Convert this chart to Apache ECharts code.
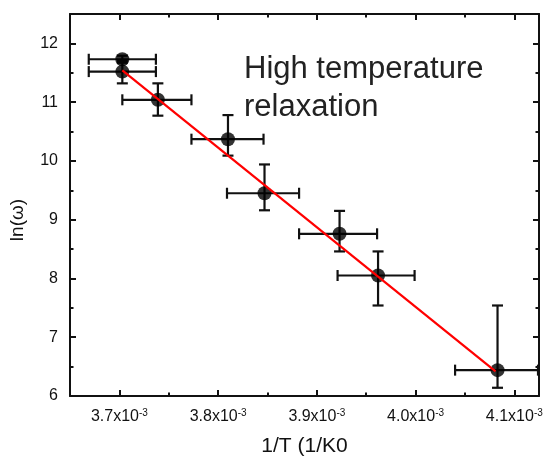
<!DOCTYPE html>
<html><head><meta charset="utf-8">
<script src="https://cdn.jsdelivr.net/npm/echarts@6/dist/echarts.min.js"></script>
<style>html,body{margin:0;padding:0;background:#fff}#c{width:544px;height:456px}</style>
</head><body><div id="c"></div>
<script>
// Data (x in units of 10^-3 1/K)
const X   = [3.703, 3.703, 3.739, 3.810, 3.847, 3.923, 3.962, 4.083];
const Y   = [11.73, 11.52, 11.04, 10.37, 9.45, 8.76, 8.05, 6.44];
const XLO = [3.669, 3.669, 3.703, 3.773, 3.809, 3.882, 3.921, 4.040];
const XHI = [3.737, 3.737, 3.773, 3.846, 3.882, 3.961, 3.999, 4.124];
const YLO = [11.67, 11.32, 10.77, 10.09, 9.16, 8.46, 7.54, 6.14];
const YHI = [11.79, 11.70, 11.32, 10.78, 9.94, 9.15, 8.46, 7.54];
const FIT_X = [3.703, 4.081];
const FIT_Y = [11.54, 6.42];
const X_MAJOR = [3.7, 3.8, 3.9, 4.0, 4.1];
const X_MINOR = [3.75, 3.85, 3.95, 4.05];
const Y_MAJOR = [6, 7, 8, 9, 10, 11, 12];
const Y_MINOR = [6.5, 7.5, 8.5, 9.5, 10.5, 11.5, 12.5];
const X_TITLE = '1/T (1/K0';
const Y_TITLE = 'ln(\u03c9)';
const NOTE = 'High temperature\nrelaxation';

const FONT = 'Liberation Sans, Arial, sans-serif';
const INK = '#111';
const chart = echarts.init(document.getElementById('c'), null, {renderer: 'canvas'});
const rect = {left: 70, right: 5, top: 14, bottom: 60, containLabel: false, outerBoundsMode: 'none'};
const axLine = {show: true, onZero: false, lineStyle: {color: INK, width: 2}};
function hiddenLabel(ticks) {
  return {show: true, customValues: ticks, formatter: () => '', fontSize: 1, color: 'rgba(0,0,0,0)'};
}
function xAx(grid, pos, ticks, len, main, labels) {
  return {
    type: 'value', gridIndex: grid, position: pos, min: 3.65, max: 4.125,
    axisLine: main ? axLine : {show: false, onZero: false},
    axisTick: {show: true, inside: true, length: len, customValues: ticks, lineStyle: {color: INK, width: 2}},
    axisLabel: labels ? {
      show: true, customValues: ticks, margin: 12,
      formatter: v => '{b|' + v.toFixed(1) + 'x10}{s|-3}',
      rich: {b: {fontFamily: FONT, fontSize: 16, color: INK, lineHeight: 18},
             s: {fontFamily: FONT, fontSize: 10, color: INK, verticalAlign: 'top', lineHeight: 10}}
    } : hiddenLabel(ticks),
    splitLine: {show: false}
  };
}
function yAx(grid, pos, ticks, len, main, labels) {
  return {
    type: 'value', gridIndex: grid, position: pos, min: 6, max: 12.5,
    axisLine: main ? axLine : {show: false, onZero: false},
    axisTick: {show: true, inside: true, length: len, customValues: ticks, lineStyle: {color: INK, width: 2}},
    axisLabel: labels ? {show: true, customValues: ticks, margin: 12, fontFamily: FONT, fontSize: 16, color: INK} : hiddenLabel(ticks),
    splitLine: {show: false}
  };
}
const xa0 = xAx(0, 'bottom', X_MAJOR, 6, true, true);
xa0.name = X_TITLE; xa0.nameLocation = 'middle'; xa0.nameGap = 40;
xa0.nameTextStyle = {fontFamily: FONT, fontSize: 21, color: INK, verticalAlign: 'top'};
const ya0 = yAx(0, 'left', Y_MAJOR, 6, true, true);
ya0.name = Y_TITLE; ya0.nameLocation = 'middle'; ya0.nameGap = 43; ya0.nameRotate = 90;
ya0.nameTextStyle = {fontFamily: FONT, fontSize: 19, color: INK, padding: [0, 30, 0, 0]};

const errData = X.map((x, i) => [x, Y[i], XLO[i], XHI[i], YLO[i], YHI[i]]);
chart.setOption({
  animation: false,
  backgroundColor: '#fff',
  grid: [Object.assign({}, rect), Object.assign({}, rect)],
  xAxis: [xa0, xAx(0, 'top', X_MAJOR, 6, true, false),
          xAx(1, 'bottom', X_MINOR, 3.5, false, false), xAx(1, 'top', X_MINOR, 3.5, false, false)],
  yAxis: [ya0, yAx(0, 'right', Y_MAJOR, 6, true, false),
          yAx(1, 'left', Y_MINOR, 3.5, false, false), yAx(1, 'right', Y_MINOR, 3.5, false, false)],
  graphic: [{
    type: 'text', left: 244, top: 50, z: 100,
    style: {text: NOTE, fontFamily: FONT, fontSize: 31, lineHeight: 38.5, fill: '#222'}
  }],
  series: [
    {
      type: 'custom', xAxisIndex: 0, yAxisIndex: 0, data: errData, z: 2, clip: true,
      encode: {x: [0, 2, 3], y: [1, 4, 5]},
      renderItem(params, api) {
        const x = api.value(0), y = api.value(1);
        const pl = api.coord([api.value(2), y]), ph = api.coord([api.value(3), y]);
        const pb = api.coord([x, api.value(4)]), pt = api.coord([x, api.value(5)]);
        const cap = 5.5;
        const st = {stroke: INK, lineWidth: 2.2};
        const L = (x1, y1, x2, y2) => ({type: 'line', shape: {x1, y1, x2, y2}, style: st});
        return {type: 'group', children: [
          L(pl[0], pl[1], ph[0], ph[1]),
          L(pl[0], pl[1] - cap, pl[0], pl[1] + cap),
          L(ph[0], ph[1] - cap, ph[0], ph[1] + cap),
          L(pb[0], pb[1], pt[0], pt[1]),
          L(pb[0] - cap, pb[1], pb[0] + cap, pb[1]),
          L(pt[0] - cap, pt[1], pt[0] + cap, pt[1])
        ]};
      }
    },
    {
      type: 'scatter', xAxisIndex: 0, yAxisIndex: 0, z: 3,
      data: X.map((x, i) => [x, Y[i]]), symbol: 'circle', symbolSize: 14,
      itemStyle: {color: '#000'}
    },
    {
      type: 'line', xAxisIndex: 0, yAxisIndex: 0, z: 4,
      data: FIT_X.map((x, i) => [x, FIT_Y[i]]), symbol: 'none',
      lineStyle: {color: '#ff0000', width: 2.2}
    }
  ]
});
</script></body></html>
